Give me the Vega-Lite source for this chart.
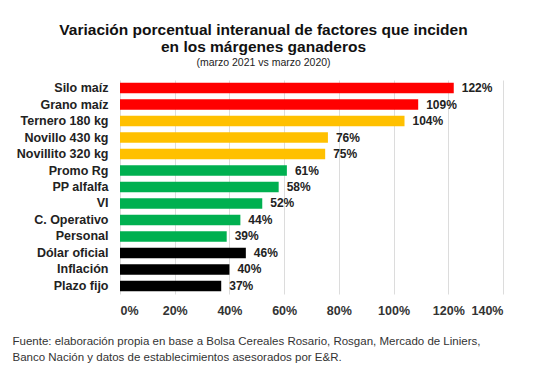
{
  "$schema": "https://vega.github.io/schema/vega-lite/v6.json",
  "width": 383,
  "height": 214,
  "autosize": "none",
  "padding": {"left": 120, "top": 80, "right": 39, "bottom": 80},
  "background": "white",
  "title": {
    "text": ["Variación porcentual interanual de factores que inciden", "en los márgenes ganaderos"],
    "subtitle": "(marzo 2021 vs marzo 2020)",
    "anchor": "middle",
    "frame": "group",
    "dx": -48,
    "offset": 12,
    "font": "Liberation Sans",
    "fontSize": 15.5,
    "fontWeight": "bold",
    "color": "#111",
    "lineHeight": 17,
    "subtitleFont": "Liberation Sans",
    "subtitleFontSize": 10.5,
    "subtitleColor": "#222",
    "subtitlePadding": 2
  },
  "data": {
    "values": [
      {"factor": "Silo maíz", "valor": 122, "grupo": "rojo"},
      {"factor": "Grano maíz", "valor": 109, "grupo": "rojo"},
      {"factor": "Ternero 180 kg", "valor": 104, "grupo": "naranja"},
      {"factor": "Novillo 430 kg", "valor": 76, "grupo": "naranja"},
      {"factor": "Novillito 320 kg", "valor": 75, "grupo": "naranja"},
      {"factor": "Promo Rg", "valor": 61, "grupo": "verde"},
      {"factor": "PP alfalfa", "valor": 58, "grupo": "verde"},
      {"factor": "VI", "valor": 52, "grupo": "verde"},
      {"factor": "C. Operativo", "valor": 44, "grupo": "verde"},
      {"factor": "Personal", "valor": 39, "grupo": "verde"},
      {"factor": "Dólar oficial", "valor": 46, "grupo": "negro"},
      {"factor": "Inflación", "valor": 40, "grupo": "negro"},
      {"factor": "Plazo fijo", "valor": 37, "grupo": "negro"}
    ]
  },
  "encoding": {
    "y": {
      "field": "factor",
      "type": "nominal",
      "sort": null,
      "scale": {"paddingInner": 0.36, "paddingOuter": 0.17},
      "axis": {
        "title": null,
        "domain": false,
        "ticks": false,
        "labelPadding": 12,
        "labelFont": "Liberation Sans",
        "labelFontSize": 12.5,
        "labelFontWeight": "bold",
        "labelColor": "#222"
      }
    },
    "x": {
      "field": "valor",
      "type": "quantitative",
      "scale": {"domain": [0, 140]},
      "axis": {
        "values": [0, 20, 40, 60, 80, 100, 120, 140],
        "labelExpr": "datum.value + '%'",
        "grid": true,
        "gridColor": "#dcdcdc",
        "domain": false,
        "ticks": false,
        "labelPadding": 10,
        "labelFont": "Liberation Sans",
        "labelFontSize": 12.5,
        "labelFontWeight": "bold",
        "labelColor": "#333",
        "title": ["Fuente: elaboración propia en base a Bolsa Cereales Rosario, Rosgan, Mercado de Liniers,", "Banco Nación y datos de establecimientos asesorados por E&R."],
        "titleFont": "Liberation Sans",
        "titleFontSize": 11.5,
        "titleFontWeight": "normal",
        "titleColor": "#333",
        "titleAnchor": "start",
        "titleAlign": "left",
        "titleBaseline": "alphabetic",
        "titleX": -108,
        "titleY": 50,
        "titleLineHeight": 16
      }
    }
  },
  "layer": [
    {
      "mark": {"type": "bar"},
      "encoding": {
        "color": {
          "field": "grupo",
          "type": "nominal",
          "scale": {"domain": ["rojo", "naranja", "verde", "negro"], "range": ["#ff0000", "#ffc000", "#00b050", "#000000"]},
          "legend": null
        }
      }
    },
    {
      "transform": [{"calculate": "datum.valor + '%'", "as": "etiqueta"}],
      "mark": {"type": "text", "align": "left", "dx": 8, "font": "Liberation Sans", "fontSize": 12, "fontWeight": "bold", "color": "#222"},
      "encoding": {
        "text": {"field": "etiqueta", "type": "nominal"},
        "x": {"field": "valor", "type": "quantitative"}
      }
    }
  ],
  "config": {"view": {"stroke": null}}
}
